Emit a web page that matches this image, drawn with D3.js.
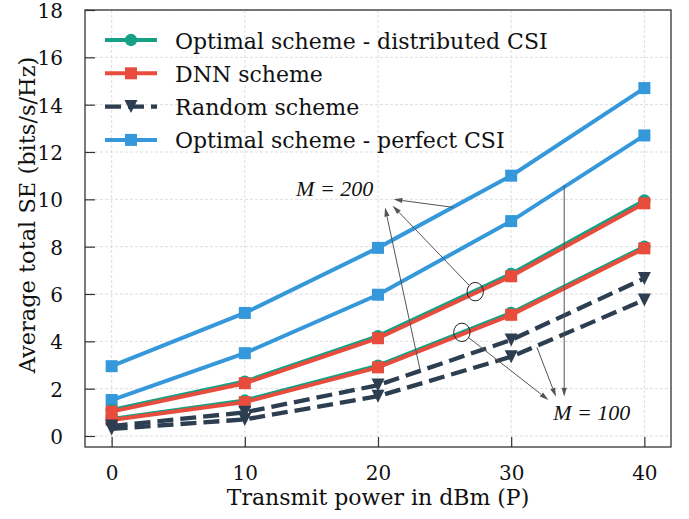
<!DOCTYPE html>
<html><head><meta charset="utf-8">
<script src="https://cdn.jsdelivr.net/npm/d3@7"></script>
<style>body{margin:0;background:#fff}svg{display:block}</style>
</head><body>
<svg id="c" width="689" height="519"></svg>
<script>
// ---- data ----
const power = [0, 10, 20, 30, 40];
const xTicks = [0, 10, 20, 30, 40];
const yTicks = [0, 2, 4, 6, 8, 10, 12, 14, 16, 18];

const optDist200 = [1.10, 2.30, 4.22, 6.85, 9.95];
const dnn200     = [1.03, 2.23, 4.13, 6.75, 9.83];
const rand200    = [0.42, 1.00, 2.15, 4.06, 6.66];
const perf200    = [2.95, 5.20, 7.95, 11.00, 14.70];

const optDist100 = [0.72, 1.50, 2.97, 5.20, 8.00];
const dnn100     = [0.68, 1.43, 2.90, 5.12, 7.93];
const rand100    = [0.30, 0.70, 1.68, 3.35, 5.75];
const perf100    = [1.52, 3.50, 5.97, 9.08, 12.70];

const legendLabels = ["Optimal scheme - distributed CSI", "DNN scheme", "Random scheme", "Optimal scheme - perfect CSI"];

// annotations (data coordinates)
const label200 = {x: 13.85, y: 10.14, text: "M = 200"};
const label100 = {x: 33.15, y: 0.68, text: "M = 100"};
const ellipses = [{x: 27.3, y: 6.1}, {x: 26.3, y: 4.38}];
const arrows = [
  {from: [25.66, 9.66], to: [21.16, 10.0]},
  {from: [27.3, 6.1], to: [21.1, 9.73], circ: 0},
  {from: [23.16, 2.79], to: [20.53, 9.65]},
  {from: [33.98, 10.6], to: [33.98, 1.66]},
  {from: [26.3, 4.38], to: [32.8, 1.52], circ: 1},
  {from: [31.93, 3.75], to: [33.36, 1.66]}
];

// ---- styles ----
const C = {green: "#16a085", red: "#e74c3c", dark: "#2c3e50", blue: "#3498db"};
const FONT = "'DejaVu Serif', serif";

const svg = d3.select("#c");
const L = 85, R = 671, T = 10, B = 447;
const x = d3.scaleLinear().domain([-2, 42]).range([L, R]);
const y = d3.scaleLinear().domain([0, 18]).range([436, 10]);

// grid
const g = svg.append("g");
g.selectAll("line.gx").data(xTicks).join("line")
  .attr("x1", d => x(d)).attr("x2", d => x(d)).attr("y1", T).attr("y2", B)
  .attr("stroke", "#d4d4d4").attr("stroke-width", 0.8).attr("stroke-dasharray", "3,2");
g.selectAll("line.gy").data(yTicks).join("line")
  .attr("y1", d => y(d)).attr("y2", d => y(d)).attr("x1", L).attr("x2", R)
  .attr("stroke", "#d4d4d4").attr("stroke-width", 0.8).attr("stroke-dasharray", "3,2");

// series
const line = d3.line().x((d, i) => x(power[i])).y(d => y(d));
const sq = d3.symbol().type(d3.symbolSquare).size(144);
const circ = d3.symbol().type(d3.symbolCircle).size(120);
const tri = (w) => `M0,${w/2}L${-w/2},${-w/2}L${w/2},${-w/2}Z`;

function marker(sel, kind, color) {
  if (kind === "circle") sel.append("path").attr("d", circ()).attr("fill", color);
  else if (kind === "square") sel.append("path").attr("d", sq()).attr("fill", color);
  else sel.append("path").attr("d", tri(13)).attr("fill", color);
}
function series(vals, color, kind, dashed) {
  const s = svg.append("g");
  s.append("path").datum(vals).attr("d", line).attr("fill", "none")
    .attr("stroke", color).attr("stroke-width", dashed ? 4.3 : 4)
    .attr("stroke-dasharray", dashed ? "16,7" : null);
  vals.forEach((v, i) => {
    const m = s.append("g").attr("transform", `translate(${x(power[i])},${y(v)})`);
    marker(m, kind, color);
  });
}
[[optDist100, dnn100, rand100, perf100], [optDist200, dnn200, rand200, perf200]].forEach(set => {
  series(set[0], C.green, "circle", false);
  series(set[1], C.red, "square", false);
  series(set[2], C.dark, "tri", true);
  series(set[3], C.blue, "square", false);
});

// annotations
const ann = svg.append("g");
ellipses.forEach(e => {
  ann.append("ellipse").attr("cx", x(e.x)).attr("cy", y(e.y)).attr("rx", 8.2).attr("ry", 9.2)
    .attr("fill", "none").attr("stroke", "#222").attr("stroke-width", 1);
});
arrows.forEach(a => {
  let x1 = x(a.from[0]), y1 = y(a.from[1]);
  const x2 = x(a.to[0]), y2 = y(a.to[1]);
  const dx = x2 - x1, dy = y2 - y1, len = Math.hypot(dx, dy);
  const ux = dx / len, uy = dy / len;
  if (a.circ !== undefined) {
    const t = 1 / Math.sqrt((ux / 8.2) ** 2 + (uy / 9.2) ** 2);
    x1 += ux * t; y1 += uy * t;
  }
  const hl = 9, hw = 2.6;
  const bx = x2 - ux * hl, by = y2 - uy * hl;
  ann.append("line").attr("x1", x1).attr("y1", y1).attr("x2", bx).attr("y2", by)
    .attr("stroke", "#555").attr("stroke-width", 1);
  ann.append("path")
    .attr("d", `M${x2},${y2}L${bx - uy * hw},${by + ux * hw}L${bx + uy * hw},${by - ux * hw}Z`)
    .attr("fill", "#555");
});
[label200, label100].forEach(t => {
  ann.append("text").attr("x", x(t.x)).attr("y", y(t.y)).text(t.text)
    .attr("font-family", "'Liberation Serif', serif").attr("font-style", "italic")
    .attr("font-size", 22).attr("fill", "#111");
});

// frame
svg.append("rect").attr("x", L).attr("y", T).attr("width", R - L).attr("height", B - T)
  .attr("fill", "none").attr("stroke", "#333").attr("stroke-width", 1.3);

// axes (inward ticks)
const xAxis = svg.append("g").attr("transform", `translate(0,${B})`)
  .call(d3.axisBottom(x).tickValues(xTicks).tickSizeInner(-10).tickSizeOuter(0).tickPadding(19));
const yAxis = svg.append("g").attr("transform", `translate(${L},0)`)
  .call(d3.axisLeft(y).tickValues(yTicks).tickSizeInner(-10).tickSizeOuter(0).tickPadding(22));
[xAxis, yAxis].forEach(a => {
  a.select(".domain").remove();
  a.selectAll(".tick line").attr("stroke", "#333").attr("stroke-width", 1.2);
  a.selectAll(".tick text").attr("font-family", FONT).attr("font-size", 20).attr("fill", "#111");
});
yAxis.selectAll(".tick text").attr("dy", "0.38em");

// axis labels
svg.append("text").attr("x", (L + R) / 2).attr("y", 505).attr("text-anchor", "middle")
  .attr("font-family", FONT).attr("font-size", 22).attr("fill", "#111")
  .text("Transmit power in dBm (P)");
svg.append("text").attr("transform", `translate(35,215) rotate(-90)`)
  .attr("text-anchor", "middle").attr("font-family", FONT).attr("font-size", 22.5).attr("fill", "#111")
  .text("Average total SE (bits/s/Hz)");

// legend
const kinds = ["circle", "square", "tri", "square"];
const colors = [C.green, C.red, C.dark, C.blue];
const lg = svg.append("g");
legendLabels.forEach((lab, i) => {
  const ry = 40 + i * 33.3;
  lg.append("line").attr("x1", 105).attr("x2", 157).attr("y1", ry).attr("y2", ry)
    .attr("stroke", colors[i]).attr("stroke-width", kinds[i] === "tri" ? 4.3 : 4)
    .attr("stroke-dasharray", kinds[i] === "tri" ? "16,7" : null);
  const m = lg.append("g").attr("transform", `translate(131,${ry})`);
  marker(m, kinds[i], colors[i]);
  lg.append("text").attr("x", 175).attr("y", ry + 8.5).text(lab)
    .attr("font-family", FONT).attr("font-size", 22).attr("fill", "#111");
});
</script>
</body></html>
